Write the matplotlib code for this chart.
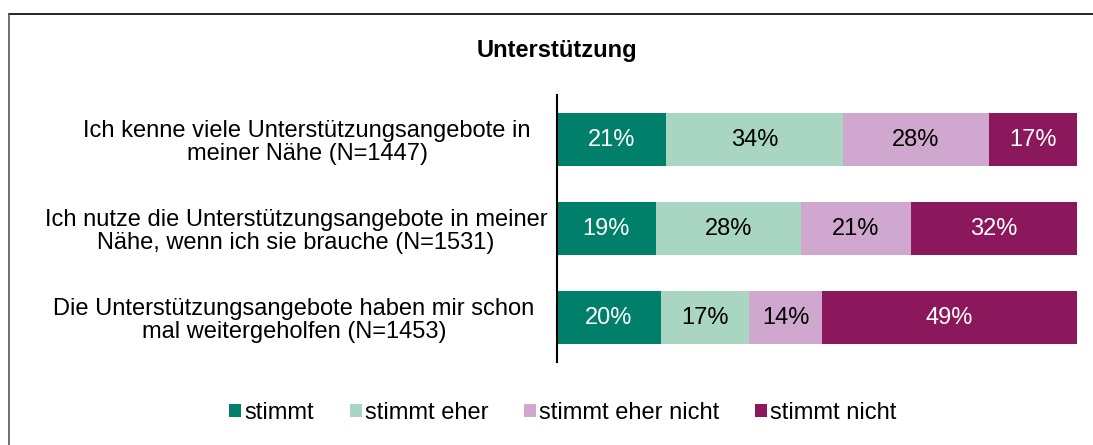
import matplotlib.pyplot as plt
from matplotlib.lines import Line2D
from matplotlib.patches import Patch

plt.rcParams["font.family"] = ["Liberation Sans", "DejaVu Sans"]

# Daten
statements = [
    "Ich kenne viele Unterstützungsangebote in\nmeiner Nähe (N=1447)",
    "Ich nutze die Unterstützungsangebote in meiner\nNähe, wenn ich sie brauche (N=1531)",
    "Die Unterstützungsangebote haben mir schon\nmal weitergeholfen (N=1453)",
]
answers = ["stimmt", "stimmt eher", "stimmt eher nicht", "stimmt nicht"]
stimmt = [21, 19, 20]
stimmt_eher = [34, 28, 17]
eher_nicht = [28, 21, 14]
nicht = [17, 32, 49]

colors = ["#007f6a", "#a9d5c3", "#d0a8cf", "#8b185c"]
text_colors = ["white", "black", "black", "white"]
label_centers = [307, 296, 294]  # Pixelmitte der Beschriftungen

fig = plt.figure(figsize=(10.93, 4.45), dpi=100, facecolor="white")
ax = fig.add_axes([557 / 1093, 1 - 362 / 445, 520 / 1093, 267 / 445])

ypos = list(range(len(statements)))
series = [stimmt, stimmt_eher, eher_nicht, nicht]
left = [0] * len(statements)
for vals, col, tcol in zip(series, colors, text_colors):
    bars = ax.barh(ypos, vals, left=left, height=0.6, color=col, edgecolor="none")
    for b, v in zip(bars, vals):
        ax.text(b.get_x() + b.get_width() / 2, b.get_y() + b.get_height() / 2,
                f"{v}%", ha="center", va="center", color=tcol, fontsize=17)
    left = [l + v for l, v in zip(left, vals)]

ax.set_xlim(0, 100)
ax.set_ylim(len(statements) - 0.5, -0.5)
ax.set_xticks([])
ax.set_yticks([])
for s in ["top", "right", "bottom"]:
    ax.spines[s].set_visible(False)
ax.spines["left"].set_linewidth(1.5)
ax.spines["left"].set_color("black")

for i, label in enumerate(statements):
    ax.text((label_centers[i] - 557) / 520, i + 0.03, label,
            transform=ax.get_yaxis_transform(),
            ha="center", va="center", multialignment="center",
            fontsize=17, linespacing=1.05)

fig.text(557 / 1093, 1 - 50 / 445, "Unterstützung", ha="center", va="center",
         fontsize=17, fontweight="bold")

handles = [Patch(facecolor=c, edgecolor="none") for c in colors]
fig.legend(handles, answers, loc="center", bbox_to_anchor=(563 / 1093, 1 - 413 / 445),
           ncol=4, frameon=False, fontsize=17, handlelength=0.5, handleheight=0.5,
           handletextpad=0.15, columnspacing=1.5)

# Rahmen (oben und links sichtbar)
fig.add_artist(Line2D([9 / 1093, 1], [1 - 14 / 445, 1 - 14 / 445],
                      transform=fig.transFigure, color="black", linewidth=1.2))
fig.add_artist(Line2D([9 / 1093, 9 / 1093], [0, 1 - 14 / 445],
                      transform=fig.transFigure, color="#555555", linewidth=1.2))

fig.savefig("out.png", dpi=100)
